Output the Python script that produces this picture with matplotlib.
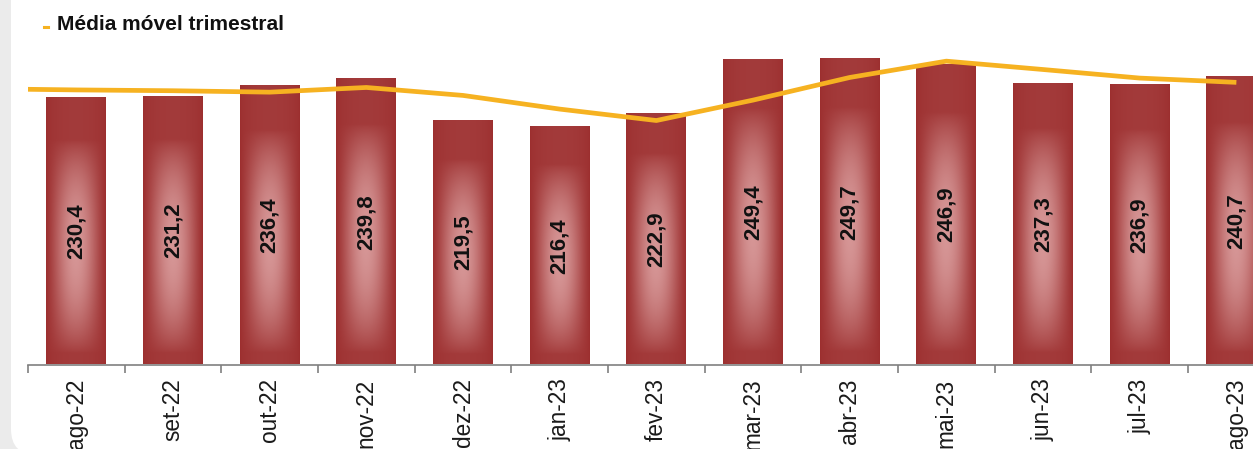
import numpy as np
import matplotlib
matplotlib.use("Agg")
import matplotlib.pyplot as plt
from matplotlib.patches import FancyBboxPatch
from matplotlib.lines import Line2D
from matplotlib.transforms import IdentityTransform

# Monthly values (bars)
months = ["ago-22", "set-22", "out-22", "nov-22", "dez-22", "jan-23", "fev-23",
          "mar-23", "abr-23", "mai-23", "jun-23", "jul-23", "ago-23"]
values = [230.4, 231.2, 236.4, 239.8, 219.5, 216.4, 222.9,
          249.4, 249.7, 246.9, 237.3, 236.9, 240.7]

# Three-month moving average, starting one month earlier (jul-22)
ma_months = ["jul-22"] + months
ma_values = [235.2, 234.6, 234.2, 233.5, 235.8, 231.9, 225.2, 219.6,
             229.6, 240.7, 248.7, 244.6, 240.4, 238.3]

legend_label = "Média móvel trimestral"

W, H, DPI = 1253, 449, 100
plt.rcParams["font.family"] = ["Liberation Sans", "DejaVu Sans"]
fig = plt.figure(figsize=(W / DPI, H / DPI), dpi=DPI)
fig.patch.set_facecolor("#ebebeb")

# white rounded panel (pixel coordinates)
panel = FancyBboxPatch((11, -6), W + 100, H + 100,
                       boxstyle="round,pad=0,rounding_size=26",
                       transform=IdentityTransform(), facecolor="white",
                       edgecolor="none", zorder=-5)
fig.patches.append(panel)

# axes placement in pixels
left_px, right_px = 28, W
bottom_px = H - 364.5
ax = fig.add_axes([left_px / W, bottom_px / H, (right_px - left_px) / W, (H - bottom_px) / H])
ax.patch.set_alpha(0)

step_px = 96.67
x_max = -0.5 + (right_px - left_px) / step_px
px_per_unit = 2.04
y_min = 100
y_max = y_min + (H - bottom_px) / px_per_unit

x = np.arange(len(months))
bar_w = 0.62
dark = np.array([156, 46, 46]) / 255
light = np.array([214, 150, 150]) / 255

# gradient fill for bars: dark edges, lighter centre
nu, ns = 120, 200
u = np.linspace(0, 1, nu)
s = np.linspace(0, 1, ns)
hprof = np.sin(np.pi * u) ** 1.4
vprof = np.clip(np.sin(np.pi * (s - 0.04) / 0.80), 0, 1) ** 0.8
t = 0.88 * vprof[:, None] * hprof[None, :] + 0.12 * np.sin(np.pi * u)[None, :] ** 0.5
img = dark[None, None, :] + (light - dark)[None, None, :] * t[:, :, None]

for xi, v in zip(x, values):
    ax.imshow(img, extent=[xi - bar_w / 2, xi + bar_w / 2, y_min, v],
              origin="lower", aspect="auto", zorder=2, interpolation="bilinear")
    ax.text(xi, (y_min + v) / 2, f"{v:.1f}".replace(".", ","), rotation=90,
            ha="center", va="center", fontsize=16, fontweight="bold",
            color="#111111", zorder=4)

# moving average line
ma_x = np.arange(-1, len(months))
ax.plot(ma_x, ma_values, color="#f6b221", lw=3.4, zorder=3, solid_capstyle="butt",
        solid_joinstyle="round")

# axes styling
for side in ["top", "right", "left"]:
    ax.spines[side].set_visible(False)
ax.spines["bottom"].set_color("#808080")
ax.spines["bottom"].set_linewidth(1.2)
ax.set_yticks([])
ax.set_xticks(x)
ax.set_xticklabels(months, rotation=90, fontsize=16.3, color="#1a1a1a")
ax.tick_params(axis="x", which="major", length=0, pad=10)
ax.set_xticks(np.arange(-0.5, len(months) - 0.4, 1), minor=True)
ax.tick_params(axis="x", which="minor", length=6, width=1.2, color="#808080", direction="out")
ax.set_xlim(-0.5, x_max)
ax.set_ylim(y_min, y_max)

# legend entry
fig.add_artist(Line2D([43.5 / W, 48.5 / W], [1 - 27 / H, 1 - 27 / H],
                      color="#f6b221", lw=2.2, transform=fig.transFigure))
fig.text(57 / W, 1 - 24 / H, legend_label, fontsize=15, fontweight="bold",
         color="#111111", ha="left", va="center")

fig.savefig("out.png", dpi=DPI)
